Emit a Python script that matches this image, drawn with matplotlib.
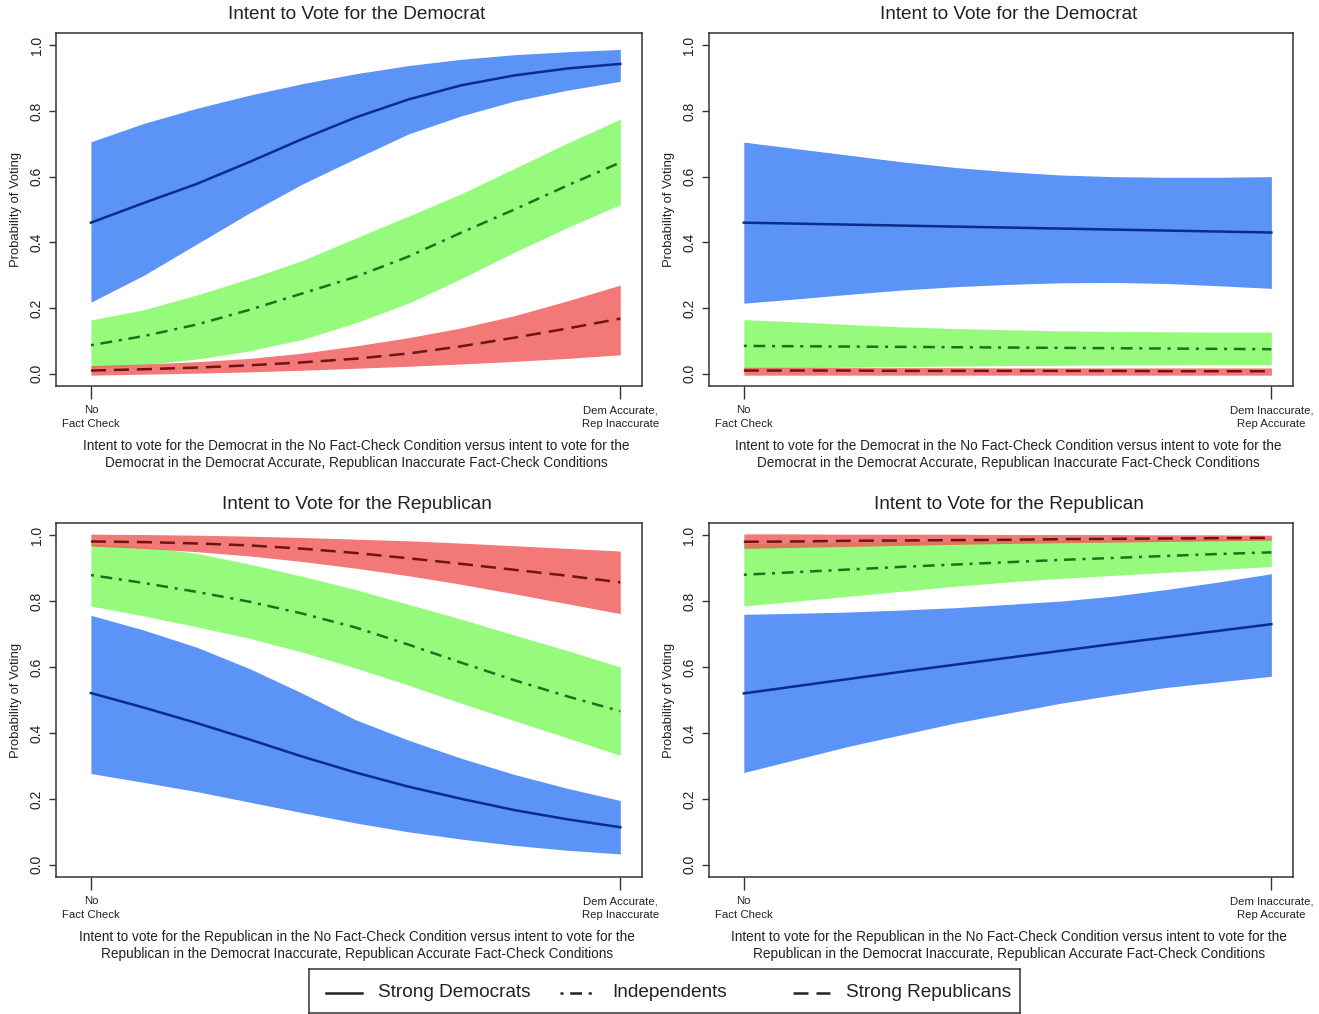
import numpy as np
import matplotlib.pyplot as plt
from matplotlib.lines import Line2D

plt.rcParams['font.family'] = ['Liberation Sans', 'DejaVu Sans']

# positions along the fact-check axis (0 = no fact check, 1 = fact-check condition)
x_pos = [0.0, 0.1, 0.2, 0.3, 0.4, 0.5, 0.6, 0.7, 0.8, 0.9, 1.0]

# Panel 1: vote Democrat, Dem accurate / Rep inaccurate
p1_sd_mid = [0.46, 0.52, 0.578, 0.645, 0.715, 0.78, 0.835, 0.878, 0.908, 0.929, 0.943]
p1_sd_hi  = [0.706, 0.762, 0.808, 0.848, 0.883, 0.913, 0.938, 0.957, 0.971, 0.98, 0.987]
p1_sd_lo  = [0.218, 0.30, 0.395, 0.49, 0.578, 0.655, 0.73, 0.785, 0.83, 0.863, 0.89]
p1_in_mid = [0.087, 0.115, 0.15, 0.195, 0.245, 0.295, 0.357, 0.43, 0.50, 0.573, 0.643]
p1_in_hi  = [0.164, 0.195, 0.24, 0.29, 0.345, 0.413, 0.48, 0.548, 0.625, 0.702, 0.775]
p1_in_lo  = [0.018, 0.028, 0.045, 0.07, 0.105, 0.155, 0.215, 0.29, 0.37, 0.445, 0.515]
p1_sr_mid = [0.01, 0.014, 0.019, 0.026, 0.035, 0.046, 0.062, 0.084, 0.11, 0.138, 0.168]
p1_sr_hi  = [0.025, 0.03, 0.037, 0.047, 0.063, 0.085, 0.11, 0.14, 0.177, 0.222, 0.27]
p1_sr_lo  = [-0.004, -0.001, 0.002, 0.006, 0.011, 0.017, 0.023, 0.03, 0.038, 0.047, 0.058]

# Panel 2: vote Democrat, Dem inaccurate / Rep accurate
p2_sd_mid = [0.46, 0.457, 0.454, 0.451, 0.448, 0.445, 0.442, 0.439, 0.436, 0.433, 0.43]
p2_sd_hi  = [0.705, 0.685, 0.665, 0.645, 0.628, 0.615, 0.605, 0.60, 0.598, 0.598, 0.60]
p2_sd_lo  = [0.215, 0.228, 0.242, 0.255, 0.265, 0.272, 0.277, 0.278, 0.275, 0.268, 0.26]
p2_in_mid = [0.085, 0.084, 0.083, 0.082, 0.081, 0.08, 0.079, 0.078, 0.077, 0.076, 0.075]
p2_in_hi  = [0.165, 0.158, 0.15, 0.143, 0.138, 0.134, 0.131, 0.129, 0.128, 0.127, 0.127]
p2_in_lo  = [0.015, 0.018, 0.02, 0.022, 0.024, 0.025, 0.026, 0.027, 0.027, 0.028, 0.028]
p2_sr_mid = [0.01, 0.01, 0.01, 0.009, 0.009, 0.009, 0.009, 0.009, 0.008, 0.008, 0.008]
p2_sr_hi  = [0.02, 0.02, 0.019, 0.019, 0.019, 0.018, 0.018, 0.018, 0.018, 0.018, 0.018]
p2_sr_lo  = [-0.004, -0.004, -0.004, -0.004, -0.004, -0.004, -0.004, -0.004, -0.004, -0.004, -0.004]

# Panel 3: vote Republican, Dem accurate / Rep inaccurate
p3_sd_mid = [0.521, 0.477, 0.43, 0.38, 0.328, 0.28, 0.237, 0.20, 0.166, 0.138, 0.114]
p3_sd_hi  = [0.757, 0.712, 0.66, 0.595, 0.52, 0.44, 0.378, 0.323, 0.274, 0.232, 0.195]
p3_sd_lo  = [0.277, 0.25, 0.222, 0.19, 0.158, 0.127, 0.10, 0.078, 0.059, 0.044, 0.033]
p3_in_mid = [0.879, 0.855, 0.828, 0.798, 0.762, 0.72, 0.668, 0.613, 0.56, 0.511, 0.466]
p3_in_hi  = [0.975, 0.965, 0.945, 0.912, 0.875, 0.835, 0.79, 0.745, 0.697, 0.65, 0.60]
p3_in_lo  = [0.785, 0.755, 0.722, 0.687, 0.645, 0.597, 0.545, 0.49, 0.437, 0.385, 0.332]
p3_sr_mid = [0.981, 0.979, 0.975, 0.969, 0.959, 0.946, 0.93, 0.913, 0.895, 0.877, 0.857]
p3_sr_hi  = [1.003, 1.002, 1.0, 0.997, 0.993, 0.988, 0.983, 0.976, 0.968, 0.96, 0.952]
p3_sr_lo  = [0.967, 0.96, 0.95, 0.937, 0.92, 0.9, 0.877, 0.851, 0.822, 0.792, 0.762]

# Panel 4: vote Republican, Dem inaccurate / Rep accurate
p4_sd_mid = [0.52, 0.542, 0.564, 0.586, 0.607, 0.628, 0.649, 0.67, 0.69, 0.71, 0.73]
p4_sd_hi  = [0.76, 0.763, 0.767, 0.773, 0.78, 0.79, 0.80, 0.815, 0.835, 0.858, 0.883]
p4_sd_lo  = [0.28, 0.32, 0.36, 0.395, 0.43, 0.46, 0.49, 0.515, 0.538, 0.555, 0.572]
p4_in_mid = [0.88, 0.888, 0.896, 0.904, 0.911, 0.918, 0.925, 0.931, 0.937, 0.943, 0.948]
p4_in_hi  = [0.975, 0.977, 0.979, 0.981, 0.983, 0.985, 0.986, 0.987, 0.988, 0.989, 0.99]
p4_in_lo  = [0.785, 0.80, 0.815, 0.83, 0.845, 0.858, 0.869, 0.878, 0.887, 0.896, 0.905]
p4_sr_mid = [0.98, 0.981, 0.983, 0.984, 0.985, 0.986, 0.988, 0.989, 0.99, 0.991, 0.992]
p4_sr_hi  = [1.004, 1.004, 1.003, 1.003, 1.003, 1.002, 1.002, 1.002, 1.001, 1.001, 1.0]
p4_sr_lo  = [0.96, 0.963, 0.966, 0.969, 0.972, 0.975, 0.977, 0.979, 0.981, 0.983, 0.985]

titles = ['Intent to Vote for the Democrat', 'Intent to Vote for the Democrat',
          'Intent to Vote for the Republican', 'Intent to Vote for the Republican']
right_ticks = ['Dem Accurate,\nRep Inaccurate', 'Dem Inaccurate,\nRep Accurate',
               'Dem Accurate,\nRep Inaccurate', 'Dem Inaccurate,\nRep Accurate']
xlabels = [
    'Intent to vote for the Democrat in the No Fact-Check Condition versus intent to vote for the\n'
    'Democrat in the Democrat Accurate, Republican Inaccurate Fact-Check Conditions',
    'Intent to vote for the Democrat in the No Fact-Check Condition versus intent to vote for the\n'
    'Democrat in the Democrat Accurate, Republican Inaccurate Fact-Check Conditions',
    'Intent to vote for the Republican in the No Fact-Check Condition versus intent to vote for the\n'
    'Republican in the Democrat Inaccurate, Republican Accurate Fact-Check Conditions',
    'Intent to vote for the Republican in the No Fact-Check Condition versus intent to vote for the\n'
    'Republican in the Democrat Inaccurate, Republican Accurate Fact-Check Conditions',
]
groups = ['Strong Democrats', 'Independents', 'Strong Republicans']

panels = [
    [(p1_sd_mid, p1_sd_lo, p1_sd_hi), (p1_in_mid, p1_in_lo, p1_in_hi), (p1_sr_mid, p1_sr_lo, p1_sr_hi)],
    [(p2_sd_mid, p2_sd_lo, p2_sd_hi), (p2_in_mid, p2_in_lo, p2_in_hi), (p2_sr_mid, p2_sr_lo, p2_sr_hi)],
    [(p3_sd_mid, p3_sd_lo, p3_sd_hi), (p3_in_mid, p3_in_lo, p3_in_hi), (p3_sr_mid, p3_sr_lo, p3_sr_hi)],
    [(p4_sd_mid, p4_sd_lo, p4_sd_hi), (p4_in_mid, p4_in_lo, p4_in_hi), (p4_sr_mid, p4_sr_lo, p4_sr_hi)],
]

# styles
fill_cols = ['#3278f5', '#7cfb5b', '#f15656']
line_cols = ['#0a2d8c', '#1f6f1f', '#6e1414']
lw = 1.8
dash_styles = ['-', (0, (1.2, 2.7, 4.7, 2.7)), (0, (6.0, 3.2))]
text_col = '#222222'
frame_col = '#333333'

# axes rectangles in figure fractions, from the pixel layout
boxes = [
    [56 / 1319, 1 - 386 / 1014, 586 / 1319, 353 / 1014],
    [709 / 1319, 1 - 386 / 1014, 584 / 1319, 353 / 1014],
    [56 / 1319, 1 - 877 / 1014, 586 / 1319, 354 / 1014],
    [709 / 1319, 1 - 877 / 1014, 584 / 1319, 354 / 1014],
]


def draw_panel(ax, series, title, right_tick, xlabel):
    for (mid, lo, hi), fc in zip(series, fill_cols):                # CI bands
        ax.fill_between(x_pos, lo, hi, color=fc, alpha=0.8, linewidth=0)
    for (mid, lo, hi), lc, ls in zip(series, line_cols, dash_styles):   # point estimates
        ax.plot(x_pos, mid, color=lc, linewidth=lw, linestyle=ls)

    ax.set_xlim(-0.066, 1.041)
    ax.set_ylim(-0.037, 1.037)
    ax.set_xticks([0, 1])
    ax.set_xticklabels(['No\nFact Check', right_tick], fontsize=8.2, color=text_col, linespacing=1.4)
    ax.set_yticks(np.linspace(0, 1, 6))
    ax.set_yticklabels(['0.0', '0.2', '0.4', '0.6', '0.8', '1.0'], rotation=90,
                       va='center', fontsize=10, color=text_col)
    ax.tick_params(axis='x', length=9.5, width=1.0, pad=4.5, colors=frame_col)
    ax.tick_params(axis='y', length=5, width=1.0, pad=4, colors=frame_col)
    for lab in ax.get_xticklabels() + ax.get_yticklabels():
        lab.set_color(text_col)
    for sp in ax.spines.values():
        sp.set_color(frame_col)
        sp.set_linewidth(1.1)

    ax.text(0.513, 1.051, title, transform=ax.transAxes, ha='center', va='center',
            fontsize=13.7, color=text_col)
    ax.text(0.513, -0.193, xlabel, transform=ax.transAxes, ha='center', va='center',
            fontsize=9.8, color=text_col, linespacing=1.25)
    ax.text(-0.068, 0.5, 'Probability of Voting', transform=ax.transAxes, rotation=90,
            ha='center', va='center', fontsize=9.4, color=text_col)


fig = plt.figure(figsize=(13.19, 10.14), dpi=100)

for i in range(4):
    ax = fig.add_axes(boxes[i])
    draw_panel(ax, panels[i], titles[i], right_ticks[i], xlabels[i])

# legend box along the bottom, laid out like R's horizontal legend
lax = fig.add_axes([309 / 1319, 1 / 1014, 711 / 1319, 44 / 1014])
lax.set_xlim(0, 1)
lax.set_ylim(0, 1)
lax.set_xticks([])
lax.set_yticks([])
for sp in lax.spines.values():
    sp.set_color(frame_col)
    sp.set_linewidth(1.1)

handle_x = [(0.024, 0.075), (0.353, 0.405), (0.681, 0.733)]
for (x0, x1), label, ls in zip(handle_x, groups, dash_styles):
    lax.add_line(Line2D([x0, x1], [0.455, 0.455], color='#222222', linewidth=lw, linestyle=ls))
    lax.text(x1 + 0.022, 0.455, label, ha='left', va='center', fontsize=13.7, color=text_col)

fig.savefig('out.png', dpi=100)
